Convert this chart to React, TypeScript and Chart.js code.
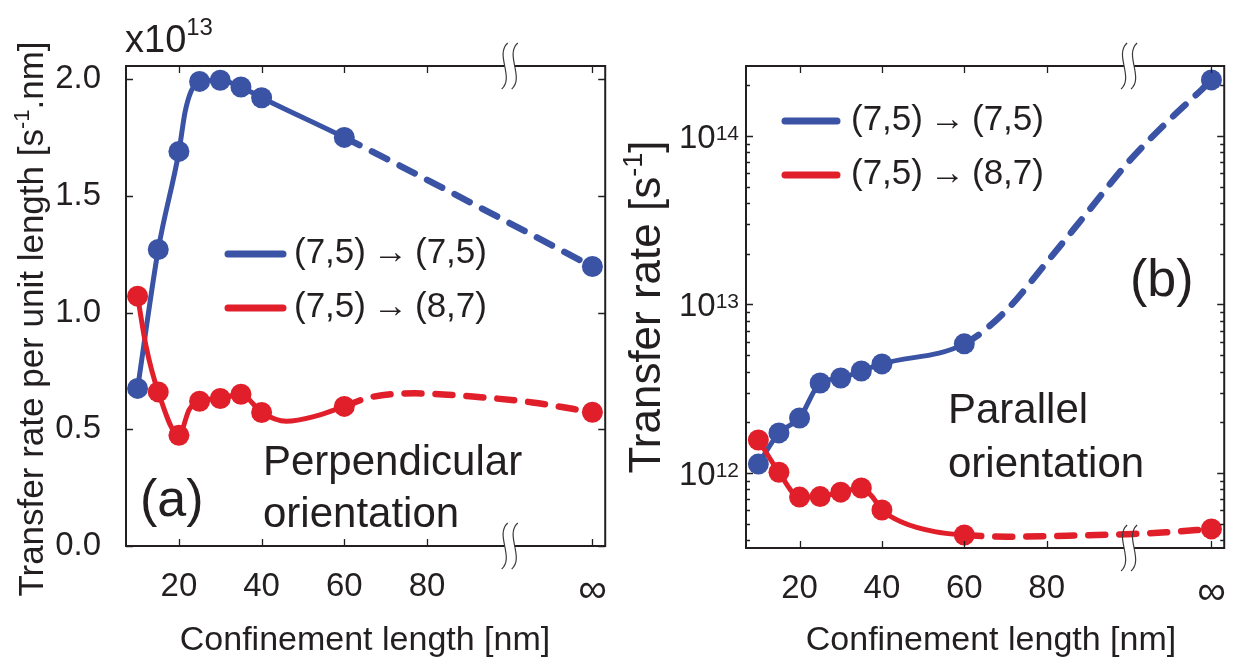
import React, { useEffect, useRef } from 'react';
import { Chart, registerables } from 'chart.js';

Chart.register(...registerables);

const FONT = '"Liberation Sans", Arial, Helvetica, sans-serif';
const INK = '#231f20';
const BLUE = '#3a53a4';
const RED = '#e01f2a';

// ---------- shared x axis ----------
const xTickValues = [20, 40, 60, 80, 120];
const xTickLabels = ['20', '40', '60', '80', '∞'];
const BREAK_X = 100;
const DASH_FROM = 60;

// ---------- panel (a): perpendicular ----------
const aMarkerX = [10, 15, 20, 25, 30, 35, 40, 60, 120];
const aBlueMarkers = [0.675, 1.27, 1.69, 1.99, 1.995, 1.966, 1.92, 1.75, 1.197];
const aRedMarkers = [1.07, 0.66, 0.474, 0.62, 0.632, 0.65, 0.572, 0.598, 0.573];
const aBlueCurveX = [10, 15, 20, 21.5, 23, 25, 30, 35, 40, 60, 120];
const aBlueCurveY = [0.675, 1.27, 1.69, 1.86, 1.95, 1.99, 1.995, 1.966, 1.92, 1.75, 1.197];
const aRedCurveX = [10, 12, 15, 20, 22.5, 25, 30, 35, 40, 46, 53, 60, 66, 77, 91, 105.5, 120];
const aRedCurveY = [1.07, 0.86, 0.66, 0.474, 0.585, 0.62, 0.632, 0.65, 0.572, 0.534, 0.556, 0.598, 0.636, 0.654, 0.64, 0.615, 0.573];
const aYTicks = [0, 0.5, 1.0, 1.5, 2.0];

// ---------- panel (b): parallel ----------
const bMarkerX = [10, 15, 20, 25, 30, 35, 40, 60, 120];
const bBlueMarkers = [1.13e12, 1.73e12, 2.12e12, 3.42e12, 3.66e12, 4.03e12, 4.44e12, 5.84e12, 2.15e14];
const bRedMarkers = [1.57e12, 1.01e12, 7.2e11, 7.25e11, 7.7e11, 8.15e11, 6.03e11, 4.29e11, 4.66e11];
const bBlueCurveX = [10, 15, 20, 25, 30, 35, 40, 60, 70, 80, 90, 100, 110, 117.6, 120];
const bBlueCurveY = [1.13e12, 1.73e12, 2.12e12, 3.42e12, 3.66e12, 4.03e12, 4.44e12, 5.84e12, 9.12e12, 1.78e13, 3.55e13, 7.08e13, 1.26e14, 1.88e14, 2.15e14];
const bRedCurveX = [10, 15, 20, 25, 30, 35, 37.6, 40, 45.2, 52.8, 60, 70.6, 85, 101, 109, 120];
const bRedCurveY = [1.57e12, 1.01e12, 7.2e11, 7.25e11, 7.7e11, 8.15e11, 7.25e11, 6.03e11, 5.07e11, 4.49e11, 4.29e11, 4.19e11, 4.25e11, 4.35e11, 4.45e11, 4.66e11];
const bYTickExps = [12, 13, 14];

const legendLabels = ['(7,5)\u2009→\u2009(7,5)', '(7,5)\u2009→\u2009(8,7)'];

type Part = { t: string; size: number; dy?: number };

function drawRich(ctx: CanvasRenderingContext2D, parts: Part[], x: number, y: number, align: 'left' | 'center' | 'right') {
  ctx.textAlign = 'left';
  ctx.textBaseline = 'alphabetic';
  let total = 0;
  const widths = parts.map((p) => {
    ctx.font = `${p.size}px ${FONT}`;
    const w = ctx.measureText(p.t).width;
    total += w;
    return w;
  });
  let cx = align === 'left' ? x : align === 'center' ? x - total / 2 : x - total;
  parts.forEach((p, i) => {
    ctx.font = `${p.size}px ${FONT}`;
    ctx.fillText(p.t, cx, y - (p.dy || 0));
    cx += widths[i];
  });
}

const pts = (xs: number[], ys: number[]) => xs.map((x, i) => ({ x, y: ys[i] }));

const curve = (xs: number[], ys: number[], color: string) => ({
  data: pts(xs, ys),
  borderColor: color,
  backgroundColor: color,
  borderWidth: 5,
  pointRadius: 0,
  pointHoverRadius: 0,
  cubicInterpolationMode: 'monotone',
  fill: false,
  borderCapStyle: 'round',
  borderJoinStyle: 'round',
  segment: {
    borderDash: (c: any) => (c.p0.parsed.x >= DASH_FROM ? [17, 14] : undefined),
    borderWidth: (c: any) => (c.p0.parsed.x >= DASH_FROM ? 6.5 : undefined),
  },
});

const markers = (xs: number[], ys: number[], color: string) => ({
  data: pts(xs, ys),
  showLine: false,
  pointRadius: 10.5,
  pointHoverRadius: 10.5,
  pointBackgroundColor: color,
  pointBorderColor: color,
  pointBorderWidth: 0,
  borderColor: color,
  backgroundColor: color,
});

interface PanelCfg {
  legendX1: number;
  legendX2: number;
  legendTX: number;
  legendY: number[];
  texts: { t: string; x: number; y: number; size: number }[];
  yTitle: { parts: Part[]; x: number; y: number };
  xTitle: { t: string; x: number; y: number; size: number };
  topLabel?: { parts: Part[]; x: number; y: number };
  logLabels?: boolean;
}

function decorPlugin(cfg: PanelCfg) {
  return {
    id: 'decor',
    afterDraw(chart: any) {
      const ctx: CanvasRenderingContext2D = chart.ctx;
      const { left, right, top, bottom } = chart.chartArea;
      const xs = chart.scales.x;
      const ys = chart.scales.y;
      ctx.save();
      ctx.strokeStyle = INK;
      ctx.fillStyle = INK;
      ctx.lineCap = 'butt';

      // inward ticks
      ctx.lineWidth = 1.3;
      ctx.beginPath();
      xTickValues.forEach((v) => {
        const px = Math.round(xs.getPixelForValue(v)) + 0.5;
        ctx.moveTo(px, bottom);
        ctx.lineTo(px, bottom - 7);
        ctx.moveTo(px, top);
        ctx.lineTo(px, top + 7);
      });
      ys.ticks.forEach((t: any) => {
        const v = t.value;
        let len = 7;
        if (cfg.logLabels) {
          const e = Math.log10(v);
          len = Math.abs(e - Math.round(e)) < 1e-6 ? 7 : 4;
        }
        const py = Math.round(ys.getPixelForValue(v)) + 0.5;
        ctx.moveTo(left, py);
        ctx.lineTo(left + len, py);
        ctx.moveTo(right, py);
        ctx.lineTo(right - len, py);
      });
      ctx.stroke();

      // frame
      ctx.lineWidth = 2;
      ctx.strokeRect(left, top, right - left, bottom - top);

      // axis breaks
      const cxb = xs.getPixelForValue(BREAK_X);
      [top, bottom].forEach((ay) => {
        ctx.fillStyle = '#ffffff';
        ctx.fillRect(cxb - 5, ay - 2, 10, 4);
        ctx.strokeStyle = '#3a3a3a';
        ctx.lineWidth = 1.2;
        [-5, 5].forEach((d) => {
          const c = cxb + d;
          ctx.beginPath();
          ctx.moveTo(c + 3, ay - 23);
          ctx.bezierCurveTo(c - 10, ay - 11, c + 10, ay + 11, c - 3, ay + 23);
          ctx.stroke();
        });
      });
      ctx.strokeStyle = INK;
      ctx.fillStyle = INK;

      // log tick labels
      if (cfg.logLabels) {
        bYTickExps.forEach((e) => {
          const py = ys.getPixelForValue(Math.pow(10, e));
          drawRich(ctx, [{ t: '10', size: 33 }, { t: String(e), size: 21, dy: 8 }], left - 7, py + 12, 'right');
        });
      }

      // legend
      legendLabels.forEach((lab, i) => {
        const y = cfg.legendY[i];
        ctx.strokeStyle = i === 0 ? BLUE : RED;
        ctx.lineWidth = 7;
        ctx.lineCap = 'round';
        ctx.beginPath();
        ctx.moveTo(cfg.legendX1, y);
        ctx.lineTo(cfg.legendX2, y);
        ctx.stroke();
        ctx.fillStyle = INK;
        drawRich(ctx, [{ t: lab, size: 35 }], cfg.legendTX, y + 9, 'left');
      });

      // annotations
      ctx.fillStyle = INK;
      cfg.texts.forEach((t) => drawRich(ctx, [{ t: t.t, size: t.size }], t.x, t.y, 'left'));

      // x title
      drawRich(ctx, [{ t: cfg.xTitle.t, size: cfg.xTitle.size }], cfg.xTitle.x, cfg.xTitle.y, 'center');

      // y title
      ctx.save();
      ctx.translate(cfg.yTitle.x, cfg.yTitle.y);
      ctx.rotate(-Math.PI / 2);
      drawRich(ctx, cfg.yTitle.parts, 0, 0, 'center');
      ctx.restore();

      if (cfg.topLabel) {
        drawRich(ctx, cfg.topLabel.parts, cfg.topLabel.x, cfg.topLabel.y, 'left');
      }
      ctx.restore();
    },
  };
}

function baseXScale(min: number, max: number, height: number) {
  return {
    type: 'linear',
    min,
    max,
    grid: { display: false },
    border: { display: false },
    afterBuildTicks: (s: any) => {
      s.ticks = xTickValues.map((v) => ({ value: v }));
    },
    afterFit: (s: any) => {
      s.height = height;
    },
    ticks: {
      autoSkip: false,
      maxRotation: 0,
      minRotation: 0,
      padding: 13,
      color: INK,
      font: (c: any) => ({ family: FONT, size: c.tick && c.tick.value === 120 ? 40 : 33 }),
      callback: (v: number) => {
        const i = xTickValues.indexOf(v);
        return i >= 0 ? xTickLabels[i] : '';
      },
    },
  };
}

function makeChartA(canvas: HTMLCanvasElement) {
  const cfg: PanelCfg = {
    legendX1: 228,
    legendX2: 283,
    legendTX: 294,
    legendY: [254, 308],
    texts: [
      { t: '(a)', x: 140, y: 516, size: 52 },
      { t: 'Perpendicular', x: 263, y: 475, size: 42 },
      { t: 'orientation', x: 263, y: 527, size: 42 },
    ],
    yTitle: {
      parts: [
        { t: 'Transfer rate per unit length [s', size: 35 },
        { t: '-1', size: 22, dy: 14 },
        { t: '.nm]', size: 35 },
      ],
      x: 43,
      y: 319,
    },
    xTitle: { t: 'Confinement length [nm]', x: 365, y: 650, size: 34 },
    topLabel: { parts: [{ t: 'x10', size: 38 }, { t: '13', size: 24, dy: 17 }], x: 125, y: 52 },
  };
  return new Chart(canvas, {
    type: 'line',
    data: {
      datasets: [
        markers(aMarkerX, aRedMarkers, RED),
        markers(aMarkerX, aBlueMarkers, BLUE),
        curve(aRedCurveX, aRedCurveY, RED),
        curve(aBlueCurveX, aBlueCurveY, BLUE),
      ] as any,
    },
    options: {
      responsive: false,
      animation: false,
      devicePixelRatio: 1,
      events: [],
      layout: { padding: { left: 0, top: 66, right: 13, bottom: 0 } },
      plugins: { legend: { display: false }, tooltip: { enabled: false }, title: { display: false } },
      scales: {
        x: baseXScale(7.2, 123.1, 118),
        y: {
          type: 'linear',
          min: 0,
          max: 2.056,
          grid: { display: false },
          border: { display: false },
          afterBuildTicks: (s: any) => {
            s.ticks = aYTicks.map((v) => ({ value: v }));
          },
          afterFit: (s: any) => {
            s.width = 126;
          },
          ticks: {
            padding: 17,
            color: INK,
            font: { family: FONT, size: 33 },
            callback: (v: number) => v.toFixed(1),
          },
        },
      },
    } as any,
    plugins: [decorPlugin(cfg)],
  });
}

function makeChartB(canvas: HTMLCanvasElement) {
  const cfg: PanelCfg = {
    legendX1: 165,
    legendX2: 217,
    legendTX: 231,
    legendY: [121, 175],
    texts: [
      { t: '(b)', x: 510, y: 296, size: 52 },
      { t: 'Parallel', x: 328, y: 423, size: 42 },
      { t: 'orientation', x: 328, y: 477, size: 42 },
    ],
    yTitle: {
      parts: [
        { t: 'Transfer rate [s', size: 44 },
        { t: '-1', size: 27, dy: 18 },
        { t: ']', size: 44 },
      ],
      x: 40,
      y: 307,
    },
    xTitle: { t: 'Confinement length [nm]', x: 371, y: 650, size: 34 },
    logLabels: true,
  };
  return new Chart(canvas, {
    type: 'line',
    data: {
      datasets: [
        markers(bMarkerX, bRedMarkers, RED),
        markers(bMarkerX, bBlueMarkers, BLUE),
        curve(bRedCurveX, bRedCurveY, RED),
        curve(bBlueCurveX, bBlueCurveY, BLUE),
      ] as any,
    },
    options: {
      responsive: false,
      animation: false,
      devicePixelRatio: 1,
      events: [],
      layout: { padding: { left: 0, top: 66, right: 11, bottom: 0 } },
      plugins: { legend: { display: false }, tooltip: { enabled: false }, title: { display: false } },
      scales: {
        x: baseXScale(7.0, 123.1, 116),
        y: {
          type: 'logarithmic',
          min: 3.59e11,
          max: 2.6e14,
          grid: { display: false },
          border: { display: false },
          afterBuildTicks: (s: any) => {
            const ticks: { value: number }[] = [];
            for (let e = 11; e <= 14; e++) {
              for (let m = 1; m <= 9; m++) {
                const v = m * Math.pow(10, e);
                if (v >= s.min && v <= s.max) ticks.push({ value: v });
              }
            }
            s.ticks = ticks;
          },
          afterFit: (s: any) => {
            s.width = 126;
          },
          ticks: { display: false },
        },
      },
    } as any,
    plugins: [decorPlugin(cfg)],
  });
}

export default function App() {
  const refA = useRef<HTMLCanvasElement>(null);
  const refB = useRef<HTMLCanvasElement>(null);
  useEffect(() => {
    const a = makeChartA(refA.current!);
    const b = makeChartB(refB.current!);
    return () => {
      a.destroy();
      b.destroy();
    };
  }, []);
  return (
    <div style={{ position: 'absolute', left: 0, top: 0, width: 1239, height: 664, background: '#ffffff', overflow: 'hidden' }}>
      <canvas ref={refA} width={620} height={664} style={{ position: 'absolute', left: 0, top: 0, width: 620, height: 664 }} />
      <canvas ref={refB} width={619} height={664} style={{ position: 'absolute', left: 620, top: 0, width: 619, height: 664 }} />
    </div>
  );
}
